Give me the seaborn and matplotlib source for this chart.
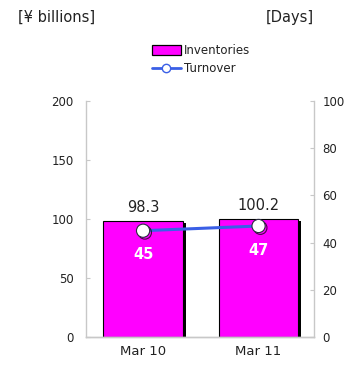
import matplotlib
matplotlib.use("Agg")
import matplotlib.pyplot as plt
import matplotlib.patheffects as pe
from matplotlib.patches import Patch
from matplotlib.lines import Line2D
import seaborn as sns
import pandas as pd

# Fiscal year-end periods
periods = ["Mar 10", "Mar 11"]
# Inventories (¥ billions)
inventories = [98.3, 100.2]
# Inventory turnover (days)
turnover_days = [45, 47]

left_ticks = [0, 50, 100, 150, 200]
right_ticks = [0, 20, 40, 60, 80, 100]

sns.set_theme(style="white")
plt.rcParams["font.family"] = ["DejaVu Sans"]

text_col = "#222222"
spine_col = "#c8c8c8"
bar_col = "#ff00ff"
line_col = "#3a5fe6"

df = pd.DataFrame({"period": periods, "inventories": inventories})

fig = plt.figure(figsize=(3.54, 3.67), dpi=100)
ax = fig.add_axes([0.243, 0.082, 0.644, 0.643])

sns.barplot(data=df, x="period", y="inventories", color=bar_col,
            width=0.69, edgecolor="black", linewidth=0.8, saturation=1,
            ax=ax, zorder=2)
for p in ax.patches:
    p.set_path_effects([pe.SimplePatchShadow(offset=(2.2, -1.5),
                                             shadow_rgbFace="black", alpha=1),
                        pe.Normal()])

ax.set_ylim(0, 200)
ax.set_yticks(left_ticks)
ax.set_xlim(-0.494, 1.48)
ax.set_xlabel("")
ax.set_ylabel("")

for i, v in enumerate(inventories):
    ax.text(i, v + 5, f"{v:.1f}", ha="center", va="bottom",
            fontsize=10.5, color=text_col)

ax2 = ax.twinx()
xs = list(range(len(periods)))
ax2.plot(xs, turnover_days, color=line_col, linewidth=2.2, zorder=3)
ax2.plot(xs, turnover_days, linestyle="none", zorder=4,
         marker="o", markersize=9.5, markerfacecolor="white",
         markeredgecolor="#2a2a40", markeredgewidth=0.8,
         path_effects=[pe.SimpleLineShadow(offset=(1.3, -1.3),
                                           shadow_color="#111111", alpha=0.8),
                       pe.Normal()])
ax2.set_ylim(0, 100)
ax2.set_yticks(right_ticks)

for i, v in enumerate(turnover_days):
    ax2.text(i, v - 7, f"{v}", ha="center", va="top", fontsize=10.5,
             fontweight="bold", color="white")

for a in (ax, ax2):
    for s in a.spines.values():
        s.set_color(spine_col)
        s.set_linewidth(1.0)
    a.spines["top"].set_visible(False)
    a.tick_params(colors=text_col, labelsize=8.5, length=3, width=0.8,
                  direction="in", color=spine_col, pad=9)
ax.spines["right"].set_visible(False)
ax2.spines["left"].set_visible(False)
ax.tick_params(axis="x", length=0, labelsize=9.5, pad=6)
ax2.tick_params(axis="y", pad=6)

fig.text(0.05, 0.953, "[¥ billions]", fontsize=10.5, color=text_col,
         ha="left", va="center")
fig.text(0.75, 0.953, "[Days]", fontsize=10.5, color=text_col,
         ha="left", va="center")

handles = [Patch(facecolor=bar_col, edgecolor="black", linewidth=0.9),
           Line2D([0], [0], color=line_col, linewidth=2.0, marker="o",
                  markersize=6, markerfacecolor="white",
                  markeredgecolor=line_col)]
fig.legend(handles, ["Inventories", "Turnover"], loc="center left",
           bbox_to_anchor=(0.41, 0.838), frameon=False, fontsize=8.5,
           handlelength=2.4, handleheight=0.9, handletextpad=0.25,
           labelspacing=0.45, borderpad=0.1, labelcolor=text_col)

fig.savefig("out.png", dpi=100)
